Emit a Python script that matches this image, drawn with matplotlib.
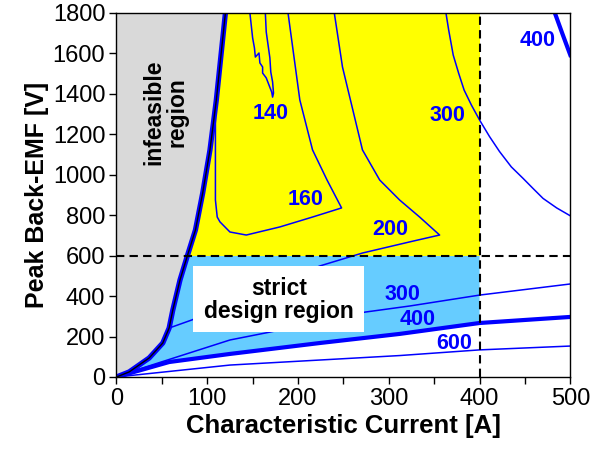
import matplotlib

matplotlib.use("Agg")

import matplotlib.pyplot as plt
import numpy as np
from matplotlib.patches import Polygon, Rectangle

plt.rcParams["font.family"] = ["Liberation Sans", "DejaVu Sans"]

# infeasibility boundary (thick line between grey and coloured areas)
BOUNDARY_I = [0, 14, 36, 51, 58, 62, 70, 78, 87, 95, 103, 110, 120]
BOUNDARY_V = [0, 25, 94, 168, 242, 330, 480, 598, 727, 910, 1123, 1370, 1800]

# contour lines
C140_I = [147, 150, 152, 153, 157, 158, 161, 161, 165, 168, 171, 172, 173, 172, 170, 169, 165, 164]
C140_V = [1800, 1677, 1627, 1582, 1602, 1553, 1533, 1503, 1479, 1444, 1409, 1384, 1404, 1459, 1508, 1578, 1706, 1800]

C160_I = [109, 109, 109, 111, 114, 125, 143, 180, 216, 248, 232, 216, 202, 189]
C160_V = [1345, 1123, 875, 791, 767, 717, 702, 742, 791, 836, 974, 1123, 1370, 1800]

C200_I = [240, 249, 271, 290, 312, 334, 356, 323, 271, 224, 147, 83, 58]
C200_V = [1800, 1533, 1123, 974, 875, 791, 702, 668, 613, 549, 405, 282, 242]

C300_UPPER_I = [363, 366, 371, 377, 383, 391, 400, 411, 422, 435, 448, 459, 470, 485, 500]
C300_UPPER_V = [1800, 1716, 1592, 1502, 1419, 1345, 1271, 1189, 1115, 1039, 982, 932, 883, 836, 797]

C400_UPPER_I = [483, 491, 500]
C400_UPPER_V = [1800, 1701, 1592]

C300_LOWER_I = [0, 29, 125, 169, 274, 323, 400, 500]
C300_LOWER_V = [0, 45, 183, 222, 321, 351, 405, 460]

C400_LOWER_I = [0, 58, 125, 224, 312, 400, 500]
C400_LOWER_V = [0, 74, 114, 168, 213, 267, 297]

C600_I = [0, 125, 312, 400, 500]
C600_V = [0, 59, 106, 134, 153]

LABEL_TEXT = ["140", "160", "200", "300", "400", "300", "400", "600"]
LABEL_I = [170, 208, 302, 365, 464, 315, 332, 372]
LABEL_V = [1303, 878, 727, 1293, 1662, 410, 284, 166]

I_LIMIT = 400
V_LIMIT = 600
X_MAX = 500
Y_MAX = 1800

BLUE = "#0000ff"
GREY = "#d9d9d9"
YELLOW = "#ffff00"
SKY = "#66ccff"


def draw_regions(ax):
    # strict design region: below V limit, above the thick 400 line
    lower = [(i, v) for i, v in zip(C400_LOWER_I, C400_LOWER_V) if i <= I_LIMIT]
    blue_poly = lower + [(I_LIMIT, V_LIMIT), (0, V_LIMIT)]
    ax.add_patch(Polygon(blue_poly, closed=True, facecolor=SKY, edgecolor="none", zorder=1))
    ax.add_patch(Rectangle((0, V_LIMIT), I_LIMIT, Y_MAX - V_LIMIT, facecolor=YELLOW, edgecolor="none", zorder=1))
    grey_poly = list(zip(BOUNDARY_I, BOUNDARY_V)) + [(0, Y_MAX)]
    ax.add_patch(Polygon(grey_poly, closed=True, facecolor=GREY, edgecolor="none", zorder=2))


def draw_contours(ax):
    thin = dict(color=BLUE, lw=1.1, zorder=3)
    ax.plot(C140_I, C140_V, **thin)
    ax.plot(C160_I, C160_V, **thin)
    ax.plot(C200_I, C200_V, **thin)
    ax.plot(C300_UPPER_I, C300_UPPER_V, **thin)
    ax.plot(C300_LOWER_I, C300_LOWER_V, **thin)
    ax.plot(C600_I, C600_V, **thin)
    ax.plot(C400_UPPER_I, C400_UPPER_V, color=BLUE, lw=3, zorder=3)
    ax.plot(C400_LOWER_I, C400_LOWER_V, color=BLUE, lw=3, zorder=3)
    ax.plot(BOUNDARY_I, BOUNDARY_V, color=BLUE, lw=3.8, zorder=4, solid_joinstyle="round")
    ax.plot(BOUNDARY_I, BOUNDARY_V, color="black", lw=1.0, zorder=4)
    for text, i, v in zip(LABEL_TEXT, LABEL_I, LABEL_V):
        ax.text(i, v, text, color=BLUE, fontsize=15.5, fontweight="bold", ha="center", va="center", zorder=6)


def draw_limits(ax):
    dash = dict(color="black", lw=1.5, linestyle=(0, (4, 2.5)), zorder=5)
    ax.plot([0, X_MAX], [V_LIMIT, V_LIMIT], **dash)
    ax.plot([I_LIMIT, I_LIMIT], [0, Y_MAX], **dash)
    ax.add_patch(Rectangle((84, 222), 189, 327, facecolor="white", edgecolor="none", zorder=5))
    ax.text(179, 381, "strict\ndesign region", fontsize=16.5, fontweight="bold", ha="center", va="center",
            multialignment="center", linespacing=1.0, zorder=6)
    ax.text(54, 1310, "infeasible\nregion", fontsize=16.5, fontweight="bold", rotation=90, ha="center",
            va="center", multialignment="center", linespacing=1.0, zorder=6)


def main() -> None:
    fig = plt.figure(figsize=(5.94, 4.51), dpi=100)
    ax = fig.add_axes([0.1961, 0.1641, 0.7640, 0.8071])
    draw_regions(ax)
    draw_contours(ax)
    draw_limits(ax)

    ax.set_xlim(0, X_MAX)
    ax.set_ylim(0, Y_MAX)
    xt = np.arange(0, X_MAX + 1, 50)
    ax.set_xticks(xt, [str(t) if t % 100 == 0 else "" for t in xt])
    ax.set_yticks(np.arange(0, Y_MAX + 1, 200))
    ax.tick_params(direction="out", length=5, width=1, labelsize=17, pad=3)
    for spine in ax.spines.values():
        spine.set_linewidth(1.0)
        spine.set_zorder(7)
    ax.set_xlabel("Characteristic Current [A]", fontsize=18.5, fontweight="bold", labelpad=3)
    ax.set_ylabel("Peak Back-EMF [V]", fontsize=18, fontweight="bold", labelpad=3)

    fig.savefig("out.png", dpi=100)
    plt.close(fig)


if __name__ == "__main__":
    main()
